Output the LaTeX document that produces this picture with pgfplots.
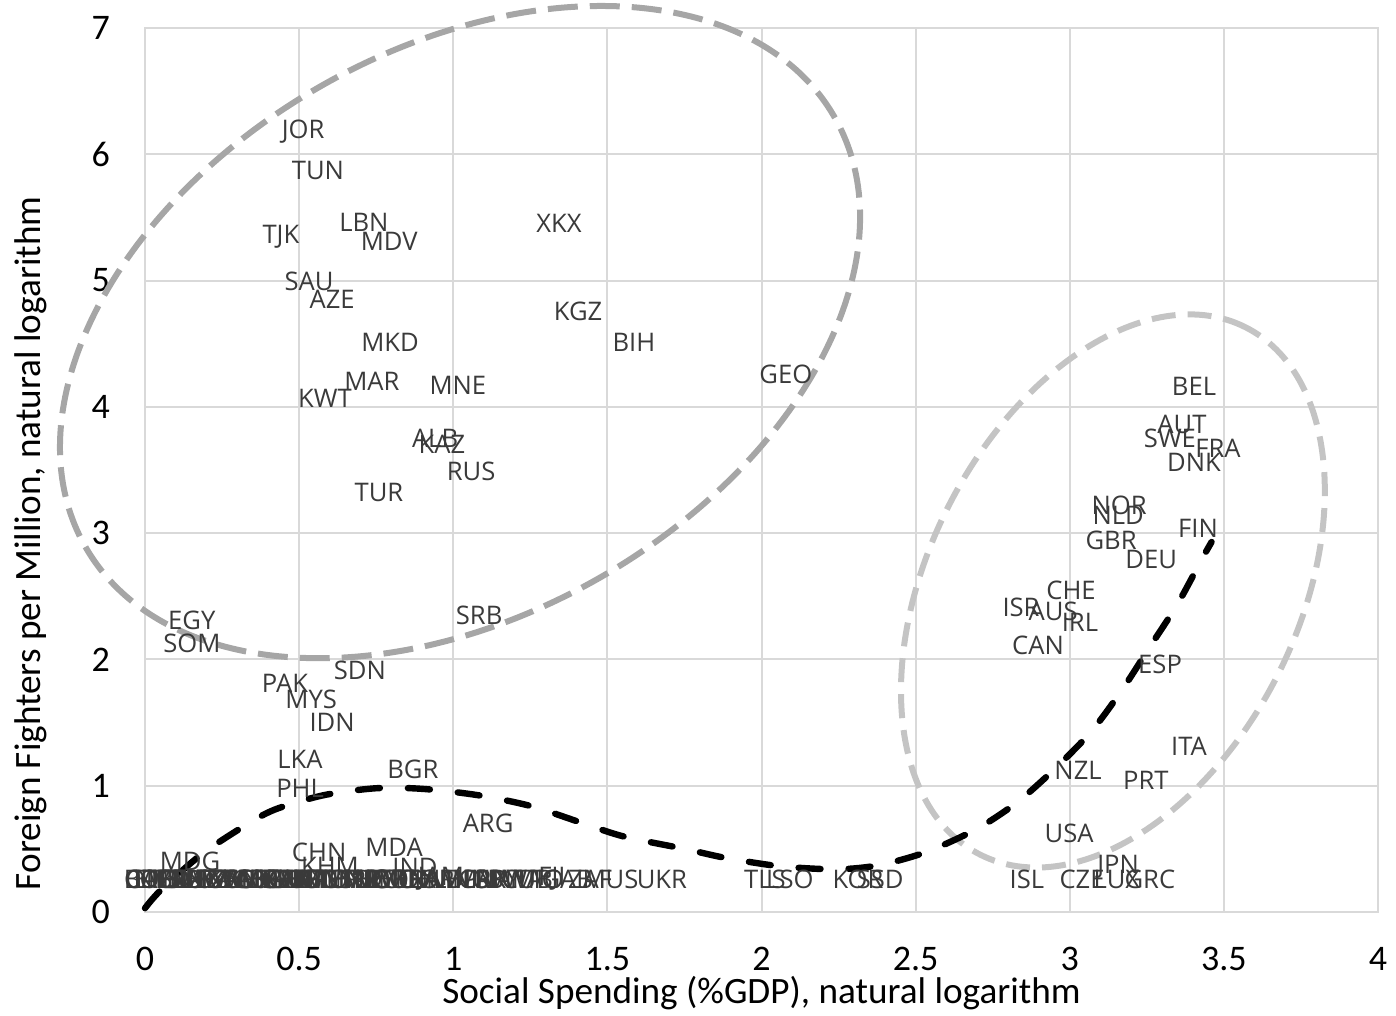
\documentclass[border=0pt]{standalone}
\usepackage{pgfplots}
\pgfplotsset{compat=1.18}
\usepackage{fontspec}
\setmainfont{Carlito}
\newfontfamily\lab{Open Sans}
\definecolor{gridc}{HTML}{D9D9D9}
\definecolor{labc}{HTML}{3A3A3A}
\definecolor{ellA}{HTML}{A6A6A6}
\definecolor{ellB}{HTML}{C4C4C4}
\begin{document}
\begin{tikzpicture}
\begin{axis}[
  scale only axis, width=616.5pt, height=442pt,
  xmin=0, xmax=4, ymin=0, ymax=7,
  xtick={0,0.5,...,4}, ytick={0,1,...,7},
  xticklabels={0,0.5,1,1.5,2,2.5,3,3.5,4},
  grid=major, grid style={gridc, line width=1pt},
  axis line style={gridc, line width=1pt},
  major tick length=0pt,
  tick label style={font=\fontsize{18}{20}\selectfont, black},
  /pgf/number format/assume math mode=true,
  xticklabel style={yshift=-14pt},
  yticklabel style={xshift=-14pt},
  xlabel={Social Spending (\%GDP), natural logarithm},
  ylabel={Foreign Fighters per Million, natural logarithm},
  label style={font=\fontsize{18.6}{21}\selectfont, black},
  xlabel style={at={(axis description cs:0.5,0)}, anchor=center, yshift=-40.5pt},
  ylabel style={at={(axis description cs:-0.093,0.417)}, anchor=center, rotate=0},
  clip=false,
]
% ellipses (annotation shapes)
\draw[ellA, line width=3pt, dash pattern=on 15pt off 6pt, rotate around={29.9:(axis cs:1.022,4.592)}]
  (axis cs:1.022,4.592) ellipse [x radius=215.9pt, y radius=141.3pt];
\draw[ellB, line width=3pt, dash pattern=on 12pt off 6pt, rotate around={63.3:(axis cs:3.140,2.542)}]
  (axis cs:3.140,2.542) ellipse [x radius=147.6pt, y radius=92.5pt];
% trend line
\addplot[black, line width=3.2pt, line cap=round, dash pattern=on 11pt off 14pt, smooth, tension=0.5, mark=none] coordinates {
(0,0.03) (0.05,0.17) (0.18,0.45) (0.315,0.67) (0.42,0.81) (0.58,0.925) (0.75,0.98) (0.9,0.975)
(1.08,0.925) (1.25,0.84) (1.40,0.72) (1.55,0.60) (1.75,0.50) (1.88,0.43) (2.05,0.365) (2.2,0.34)
(2.3,0.345) (2.40,0.38) (2.54,0.48) (2.70,0.66) (2.83,0.87) (2.95,1.13) (3.07,1.43) (3.17,1.76)
(3.26,2.10) (3.35,2.44) (3.43,2.80) (3.46,2.93)
};
% country labels
\addplot[only marks, mark=*, mark size=0pt, mark options={draw opacity=0, fill opacity=0},
  nodes near coords, point meta=explicit symbolic,
  every node near coord/.append style={anchor=center, inner sep=0pt, text=labc, text opacity=1, font=\lab\fontsize{12.8}{14}\selectfont}]
table[meta=lab, row sep=\\] {
x y lab\\
0.513 6.18 JOR\\
0.561 5.87 TUN\\
0.441 5.35 TJK\\
0.710 5.46 LBN\\
0.792 5.31 MDV\\
1.343 5.45 XKX\\
0.532 4.99 SAU\\
0.607 4.85 AZE\\
1.405 4.76 KGZ\\
0.795 4.51 MKD\\
1.586 4.51 BIH\\
2.079 4.26 GEO\\
0.736 4.20 MAR\\
1.015 4.17 MNE\\
0.584 4.07 KWT\\
0.941 3.75 ALB\\
0.963 3.70 KAZ\\
1.058 3.49 RUS\\
0.759 3.32 TUR\\
0.152 2.31 EGY\\
0.152 2.13 SOM\\
1.084 2.35 SRB\\
0.697 1.91 SDN\\
0.454 1.81 PAK\\
0.539 1.68 MYS\\
0.607 1.50 IDN\\
0.503 1.21 LKA\\
0.869 1.13 BGR\\
0.503 0.98 PHL\\
1.113 0.70 ARG\\
0.565 0.47 CHN\\
0.808 0.51 MDA\\
0.146 0.40 MDG\\
0.600 0.36 KHM\\
0.876 0.35 IND\\
3.403 4.16 BEL\\
3.364 3.86 AUT\\
3.325 3.75 SWE\\
3.481 3.67 FRA\\
3.403 3.56 DNK\\
3.160 3.22 NOR\\
3.157 3.14 NLD\\
3.416 3.04 FIN\\
3.134 2.94 GBR\\
3.264 2.79 DEU\\
3.004 2.55 CHE\\
2.842 2.41 ISR\\
2.946 2.38 AUS\\
3.033 2.29 IRL\\
2.897 2.11 CAN\\
3.293 1.96 ESP\\
3.387 1.31 ITA\\
3.027 1.12 NZL\\
3.247 1.04 PRT\\
2.998 0.62 USA\\
3.157 0.36 JPN\\
2.861 0.26 ISL\\
3.040 0.26 CZE\\
3.153 0.26 LUX\\
3.260 0.26 GRC\\
1.677 0.26 UKR\\
2.011 0.26 TLS\\
2.092 0.26 LSO\\
2.313 0.26 KOR\\
2.385 0.26 SSD\\
1.444 0.26 ZAF\\
1.510 0.26 MUS\\
0.00 0.26 BDI\\
0.01 0.26 CAF\\
0.02 0.26 COD\\
0.04 0.26 ETH\\
0.05 0.26 NER\\
0.07 0.26 TCD\\
0.09 0.26 MLI\\
0.11 0.26 BFA\\
0.12 0.26 GIN\\
0.14 0.26 SLE\\
0.16 0.26 LBR\\
0.18 0.26 MOZ\\
0.20 0.26 MWI\\
0.22 0.26 UGA\\
0.24 0.26 TZA\\
0.26 0.26 RWA\\
0.28 0.26 KEN\\
0.30 0.26 ZMB\\
0.32 0.26 AGO\\
0.34 0.26 CMR\\
0.36 0.26 CIV\\
0.38 0.26 GHA\\
0.40 0.26 NGA\\
0.42 0.26 BEN\\
0.44 0.26 TGO\\
0.46 0.26 SEN\\
0.48 0.26 GMB\\
0.50 0.26 MRT\\
0.52 0.26 HTI\\
0.54 0.26 BGD\\
0.56 0.26 NPL\\
0.58 0.26 LAO\\
0.60 0.26 MMR\\
0.62 0.26 VNM\\
0.64 0.26 THA\\
0.66 0.26 GTM\\
0.68 0.26 HND\\
0.70 0.26 SLV\\
0.72 0.26 NIC\\
0.74 0.26 PRY\\
0.76 0.26 BOL\\
0.78 0.26 PER\\
0.80 0.26 ECU\\
0.82 0.26 COL\\
0.84 0.26 VEN\\
0.86 0.26 MEX\\
0.88 0.26 BRA\\
0.90 0.26 CHL\\
0.93 0.26 DOM\\
0.96 0.26 JAM\\
0.99 0.26 ARM\\
1.02 0.26 MNG\\
1.05 0.26 BLR\\
1.08 0.26 CRI\\
1.11 0.26 PAN\\
1.14 0.26 URY\\
1.17 0.26 NAM\\
1.20 0.26 BWA\\
1.24 0.26 CUB\\
1.28 0.26 TTO\\
1.32 0.26 FJI\\
1.37 0.26 GAB\\
};
\end{axis}
\pgfresetboundingbox
\path ([shift={(-72.5pt,-52pt)}]current axis.south west) rectangle ([shift={(9pt,14pt)}]current axis.north east);
\end{tikzpicture}
\end{document}
